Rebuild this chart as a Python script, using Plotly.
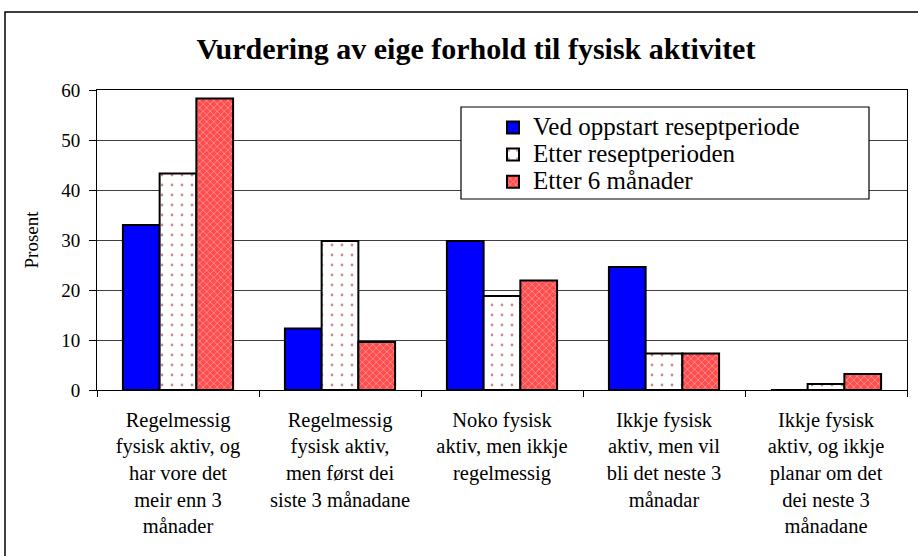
import plotly.graph_objects as go

categories = [
    "Regelmessig<br>fysisk aktiv, og<br>har vore det<br>meir enn 3<br>månader",
    "Regelmessig<br>fysisk aktiv,<br>men først dei<br>siste 3 månadane",
    "Noko fysisk<br>aktiv, men ikkje<br>regelmessig",
    "Ikkje fysisk<br>aktiv, men vil<br>bli det neste 3<br>månadar",
    "Ikkje fysisk<br>aktiv, og ikkje<br>planar om det<br>dei neste 3<br>månadane",
]
series_names = ["Ved oppstart reseptperiode", "Etter reseptperioden", "Etter 6 månader"]
ved_oppstart = [33.0, 12.3, 29.8, 24.6, 0.0]
etter_resept = [43.3, 29.8, 18.8, 7.3, 1.2]
etter_6mnd = [58.3, 9.6, 21.9, 7.3, 3.2]
y_ticks = [0, 10, 20, 30, 40, 50, 60]

FONT = "Liberation Serif"


def legend_label(name):
    return '<span style="font-size:25px">' + name + "</span>"


fig = go.Figure()
fig.add_trace(go.Bar(
    name=legend_label(series_names[0]), x=categories, y=ved_oppstart,
    marker=dict(color="#0000ff", line=dict(color="black", width=2)),
))
fig.add_trace(go.Bar(
    name=legend_label(series_names[1]), x=categories, y=etter_resept,
    marker=dict(color="white", line=dict(color="black", width=2),
                pattern=dict(shape=".", fgcolor="#a01818", bgcolor="white",
                             size=10, solidity=0.06, fillmode="overlay")),
))
fig.add_trace(go.Bar(
    name=legend_label(series_names[2]), x=categories, y=etter_6mnd,
    marker=dict(color="#ff5a5a", line=dict(color="black", width=2),
                pattern=dict(shape="x", fgcolor="#ffe0e0", bgcolor="#ff4c4c",
                             size=5, solidity=0.3, fillmode="overlay")),
))

W, H = 918, 556
L, R, T, B = 97, 907, 90, 390


def px(xp):
    return (xp - L) / (R - L)


def py(yp):
    return (B - yp) / (B - T)


fig.update_layout(
    width=W, height=H,
    margin=dict(l=L, r=W - R, t=T, b=H - B, pad=0),
    paper_bgcolor="white", plot_bgcolor="white",
    font=dict(family=FONT, color="black"),
    barmode="group", bargap=0.32, bargroupgap=0,
    title=dict(text="<b>Vurdering av eige forhold til fysisk aktivitet</b>",
               font=dict(size=30, family=FONT, color="black"),
               x=476 / W, xref="container", xanchor="center",
               y=1 - 48 / H, yref="container", yanchor="middle"),
    legend=dict(x=px(493), y=py(109), xanchor="left", yanchor="top",
                bgcolor="rgba(0,0,0,0)", borderwidth=0,
                font=dict(size=18.5, family=FONT, color="black"),
                tracegroupgap=0, itemclick=False),
    showlegend=True,
    xaxis=dict(showline=True, linecolor="black", linewidth=1, mirror=True,
               ticks="outside", ticklen=6, tickcolor="black", tickson="boundaries",
               tickangle=0, tickfont=dict(size=20.5, family=FONT, color="black"),
               ticklabelstandoff=11, showgrid=False),
    yaxis=dict(range=[0, 60], tickvals=y_ticks, showline=True, linecolor="black",
               linewidth=1, mirror=True, ticks="outside", ticklen=7, tickcolor="black",
               tickfont=dict(size=19, family=FONT, color="black"),
               ticklabelstandoff=5,
               showgrid=True, gridcolor="#404040", gridwidth=1,
               title=dict(text="Prosent", font=dict(size=19, family=FONT, color="black"),
                          standoff=17),
               zeroline=False),
)

# legend frame
fig.add_shape(type="rect", xref="paper", yref="paper",
              x0=px(461), x1=px(869), y0=py(199), y1=py(107),
              line=dict(color="black", width=1.2), fillcolor="white", layer="above")
# outer chart frame
fig.add_shape(type="rect", xref="paper", yref="paper",
              x0=px(5), x1=px(960), y0=py(600), y1=py(12),
              line=dict(color="black", width=1.5), fillcolor="rgba(0,0,0,0)")

fig.write_html("out.html", config={"displayModeBar": False},
               post_script="document.body.style.margin='0';")
